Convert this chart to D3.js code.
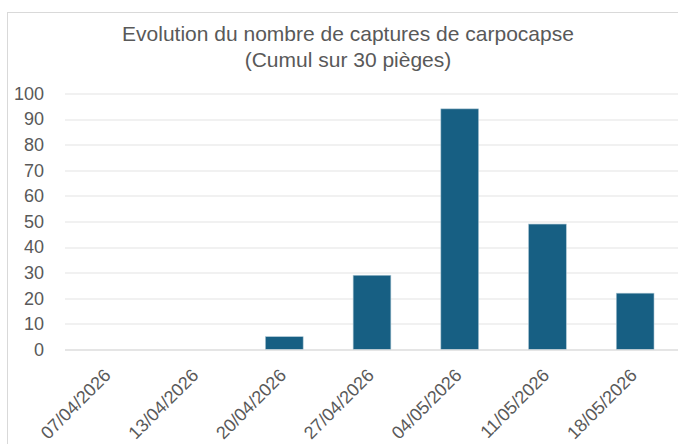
<!DOCTYPE html>
<html>
<head>
<meta charset="utf-8">
<script src="https://cdn.jsdelivr.net/npm/d3@7"></script>
<style>
  body { margin: 0; background: #fff; }
  svg { display: block; }
</style>
</head>
<body>
<div id="chart"></div>
<script>
// data
var dates = ["07/04/2026", "13/04/2026", "20/04/2026", "27/04/2026", "04/05/2026", "11/05/2026", "18/05/2026"];
var captures = [0, 0, 5, 29, 94, 49, 22];
var yTicks = [0, 10, 20, 30, 40, 50, 60, 70, 80, 90, 100];
var titleLines = ["Evolution du nombre de captures de carpocapse", "(Cumul sur 30 pièges)"];

var svgWidth = 678;
var svgHeight = 444;

var margin = { top: 93.5, right: -1, bottom: 94.5, left: 65 };
var chartWidth = svgWidth - margin.left - margin.right;
var chartHeight = svgHeight - margin.top - margin.bottom;

var font = "'Liberation Sans', Arial, sans-serif";

var svg = d3.select("#chart").append("svg")
  .attr("width", svgWidth)
  .attr("height", svgHeight);

// outer chart frame (runs off the right/bottom edge)
svg.append("rect")
  .attr("x", 7.5)
  .attr("y", 12.5)
  .attr("width", 700)
  .attr("height", 460)
  .attr("fill", "#fff")
  .attr("stroke", "#d9d9d9");

// title
svg.append("g")
  .selectAll("text")
  .data(titleLines)
  .enter()
  .append("text")
  .attr("x", 348)
  .attr("y", (d, i) => 41 + i * 26)
  .attr("text-anchor", "middle")
  .attr("fill", "#595959")
  .style("font-family", font)
  .style("font-size", "21px")
  .text(d => d);

var chartGroup = svg.append("g")
  .attr("transform", `translate(${margin.left}, ${margin.top})`);

var xScale = d3.scaleBand()
  .domain(dates)
  .range([0, chartWidth])
  .paddingInner(0.57)
  .paddingOuter(0.285);

var yScale = d3.scaleLinear()
  .domain([0, 100])
  .range([chartHeight, 0]);

// gridlines
chartGroup.append("g")
  .selectAll("line")
  .data(yTicks)
  .enter()
  .append("line")
  .attr("x1", 0)
  .attr("x2", chartWidth)
  .attr("y1", d => Math.round(yScale(d)) + 0.5)
  .attr("y2", d => Math.round(yScale(d)) + 0.5)
  .attr("stroke", "#e3e3e3")
  .attr("stroke-width", 1);

// y axis labels
var yAxis = d3.axisLeft(yScale).tickValues(yTicks).tickSize(0).tickPadding(21);
var yG = chartGroup.append("g").call(yAxis);
yG.select(".domain").remove();
yG.selectAll("text")
  .attr("fill", "#595959")
  .style("font-family", font)
  .style("font-size", "18px");

// bars
chartGroup.selectAll("rect.bar")
  .data(captures)
  .enter()
  .append("rect")
  .attr("class", "bar")
  .attr("x", (d, i) => xScale(dates[i]))
  .attr("y", d => yScale(d))
  .attr("width", xScale.bandwidth())
  .attr("height", d => chartHeight - yScale(d))
  .attr("fill", "#175f83")
  .attr("stroke", "#a9c4d2")
  .attr("stroke-width", 0.6);

// x axis
var xAxis = d3.axisBottom(xScale).tickSize(0).tickPadding(0);
var xG = chartGroup.append("g")
  .attr("transform", `translate(0, ${chartHeight})`)
  .call(xAxis);
xG.select(".domain").remove();
xG.selectAll("text")
  .attr("fill", "#595959")
  .style("font-family", font)
  .style("font-size", "18px")
  .attr("text-anchor", "end")
  .attr("dy", 0)
  .attr("transform", "translate(3, 27) rotate(-45)");

// axis line at zero
chartGroup.append("line")
  .attr("x1", 0)
  .attr("x2", chartWidth)
  .attr("y1", Math.round(chartHeight) + 0.5)
  .attr("y2", Math.round(chartHeight) + 0.5)
  .attr("stroke", "#d9d9d9");
</script>
</body>
</html>
